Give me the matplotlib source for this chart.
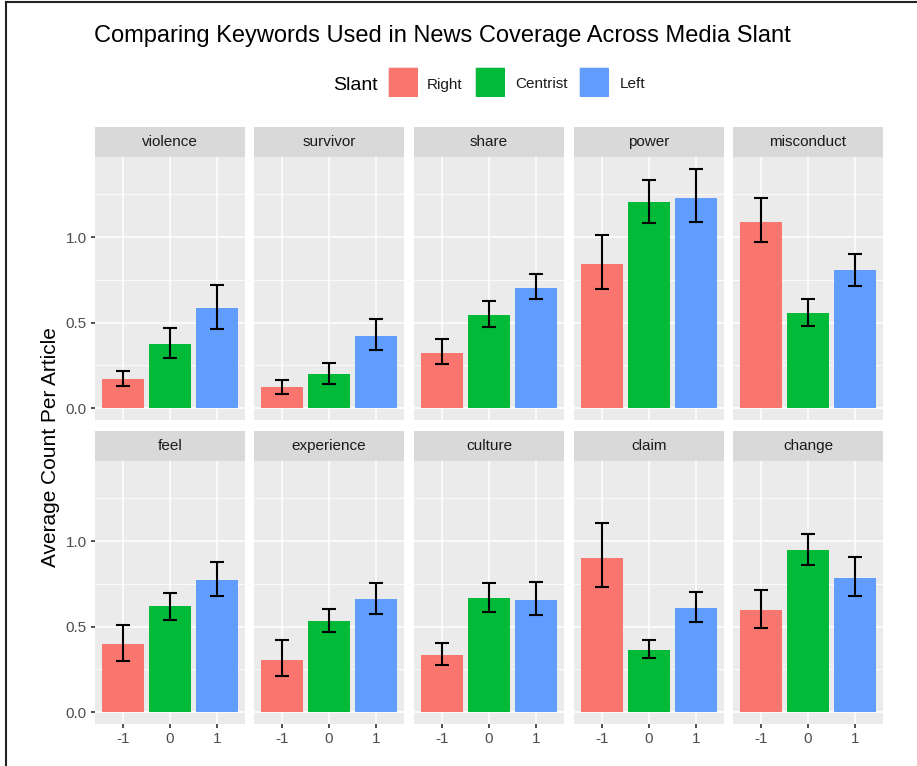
import matplotlib.pyplot as plt
import numpy as np

plt.rcParams['font.family'] = ['Liberation Sans', 'DejaVu Sans']

keywords = ["violence", "survivor", "share", "power", "misconduct",
            "feel", "experience", "culture", "claim", "change"]
slant = [-1, 0, 1]
slant_names = ["Right", "Centrist", "Left"]
colors = ["#F8766D", "#00BA38", "#619CFF"]

# mean per slant (Right, Centrist, Left) for each keyword
means = [
    [0.168, 0.372, 0.585],
    [0.121, 0.199, 0.419],
    [0.324, 0.546, 0.702],
    [0.844, 1.207, 1.230],
    [1.088, 0.554, 0.805],
    [0.398, 0.619, 0.770],
    [0.305, 0.531, 0.660],
    [0.336, 0.666, 0.658],
    [0.902, 0.365, 0.611],
    [0.596, 0.949, 0.785],
]
lower = [
    [0.127, 0.294, 0.464],
    [0.080, 0.142, 0.339],
    [0.259, 0.476, 0.637],
    [0.698, 1.084, 1.088],
    [0.969, 0.480, 0.713],
    [0.301, 0.539, 0.676],
    [0.213, 0.467, 0.574],
    [0.275, 0.584, 0.568],
    [0.732, 0.316, 0.525],
    [0.494, 0.857, 0.680],
]
upper = [
    [0.216, 0.470, 0.717],
    [0.166, 0.263, 0.520],
    [0.403, 0.624, 0.782],
    [1.012, 1.333, 1.398],
    [1.228, 0.635, 0.899],
    [0.510, 0.697, 0.879],
    [0.420, 0.605, 0.754],
    [0.404, 0.756, 0.762],
    [1.105, 0.422, 0.701],
    [0.711, 1.043, 0.904],
]

W, H = 917, 766
fig = plt.figure(figsize=(W / 100, H / 100), dpi=100)


def rect(l, t, r, b):
    return [l / W, 1 - b / H, (r - l) / W, (b - t) / H]


ymax = max(max(u) for u in upper)
ylim = (-0.05 * ymax, ymax * 1.05)

lefts = [95, 254, 414, 574, 733]
pw = 150
rows = [(127, 157, 420), (431, 461, 724)]

for i, kw in enumerate(keywords):
    r, c = divmod(i, 5)
    st, pt, pb = rows[r]
    l = lefts[c]
    ax = fig.add_axes(rect(l, pt, l + pw, pb))
    ax.set_facecolor("#EBEBEB")
    for s in ax.spines.values():
        s.set_visible(False)
    ax.set_xlim(-1.6, 1.6)
    ax.set_ylim(*ylim)
    ax.set_yticks([0, 0.5, 1.0])
    ax.set_yticks([0.25, 0.75, 1.25], minor=True)
    ax.set_xticks(slant)
    ax.grid(True, which="major", color="white", linewidth=1.1)
    ax.grid(True, which="minor", axis="y", color="white", linewidth=0.55)
    ax.set_axisbelow(True)
    ax.tick_params(which="minor", length=0)
    ax.tick_params(which="major", length=3, width=1.2, color="#333333",
                   labelsize=11, labelcolor="#4D4D4D", pad=3)
    if c == 0:
        ax.set_yticklabels(["0.0", "0.5", "1.0"])
    else:
        ax.tick_params(axis="y", length=0, labelleft=False)
    if r == 1:
        ax.set_xticklabels(["-1", "0", "1"])
    else:
        ax.tick_params(axis="x", length=0, labelbottom=False)

    m = np.array(means[i])
    lo = np.array(lower[i])
    up = np.array(upper[i])
    ax.bar(slant, m, width=0.9, color=colors, zorder=2)
    ax.errorbar(slant, m, yerr=[m - lo, up - m], fmt="none", ecolor="black",
                elinewidth=1.5, capsize=5, capthick=1.5, zorder=3)

    sax = fig.add_axes(rect(l, st, l + pw, pt))
    sax.set_facecolor("#D9D9D9")
    sax.set_xticks([])
    sax.set_yticks([])
    for s in sax.spines.values():
        s.set_visible(False)
    sax.text(0.5, 0.5, kw, ha="center", va="center", fontsize=11,
             color="#1A1A1A", transform=sax.transAxes)

fig.text(94 / W, 1 - 36 / H, "Comparing Keywords Used in News Coverage Across Media Slant",
         ha="left", va="center", fontsize=17, color="black")
fig.text(51 / W, 1 - 447 / H, "Average Count Per Article", rotation=90,
         ha="center", va="center", fontsize=15, color="black")

# legend
fig.text(333 / W, 1 - 83 / H, "Slant", ha="left", va="center_baseline", fontsize=14)
key_x = [388, 475, 579]
lab_x = [427, 515, 620]
for kx, lx, col, name in zip(key_x, lab_x, colors, slant_names):
    kax = fig.add_axes(rect(kx, 67, kx + 30, 97))
    kax.set_facecolor("#F2F2F2")
    kax.set_xticks([])
    kax.set_yticks([])
    for s in kax.spines.values():
        s.set_visible(False)
    kax.add_patch(plt.Rectangle((0.03, 0.03), 0.94, 0.94, color=col,
                                transform=kax.transAxes))
    fig.text(lx / W, 1 - 83 / H, name, ha="left", va="center_baseline",
             fontsize=11, color="#1A1A1A")

# frame lines at the top and left edges
fig.add_artist(plt.Line2D([6 / W, 1], [1 - 2 / H, 1 - 2 / H], color="#222222", linewidth=1.5))
fig.add_artist(plt.Line2D([6 / W, 6 / W], [0, 1 - 2 / H], color="#222222", linewidth=1.5))

fig.savefig("out.png", dpi=100)
